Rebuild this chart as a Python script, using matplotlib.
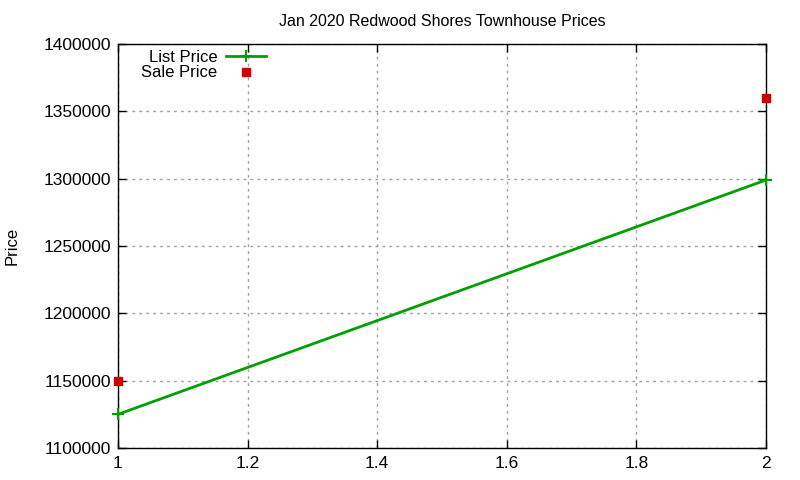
import matplotlib
matplotlib.use("Agg")
import matplotlib.pyplot as plt
from matplotlib.ticker import MultipleLocator, FormatStrFormatter

plt.rcParams['font.family'] = ['Liberation Sans', 'DejaVu Sans']

title = "Jan 2020 Redwood Shores Townhouse Prices"
list_x = [1, 2]
list_price = [1125000, 1299000]
sale_x = [1, 2]
sale_price = [1150000, 1360000]

fig = plt.figure(figsize=(8, 4.8), dpi=100)
ax = fig.add_axes([0.1475, 0.0667, 0.81, 0.8416])

ax.plot(list_x, list_price, color='#00a000', lw=2, marker='+', ms=9, mew=1.5,
        label='List Price', clip_on=False, zorder=3)
ax.plot(sale_x, sale_price, ls='none', color='#cc0000', marker='s', ms=6,
        label='Sale Price', clip_on=False, zorder=4)

ax.set_xlim(1, 2)
ax.set_ylim(1100000, 1400000)
ax.xaxis.set_major_locator(MultipleLocator(0.2))
ax.yaxis.set_major_locator(MultipleLocator(50000))
ax.xaxis.set_major_formatter(FormatStrFormatter('%g'))
ax.yaxis.set_major_formatter(FormatStrFormatter('%d'))
ax.tick_params(direction='in', top=True, right=True, length=6, width=1,
               labelsize=12.5, pad=6)
ax.tick_params(axis='y', pad=5)
ax.grid(True, color='#a0a0a0', ls=(0, (2, 3)), lw=1)
for s in ax.spines.values():
    s.set_linewidth(1)

ax.set_title(title, fontsize=11.5, pad=13)
ax.set_ylabel('Price', fontsize=12, labelpad=17)

leg = ax.legend(loc='upper left', bbox_to_anchor=(0.018, 1.015), frameon=False,
                markerfirst=False, fontsize=12, handlelength=2.4,
                handletextpad=0.5, labelspacing=0.05, borderaxespad=0.3)
try:
    leg._legend_box.get_children()[1].get_children()[0].align = 'right'
except Exception:
    pass

fig.savefig('out.png', dpi=100)
